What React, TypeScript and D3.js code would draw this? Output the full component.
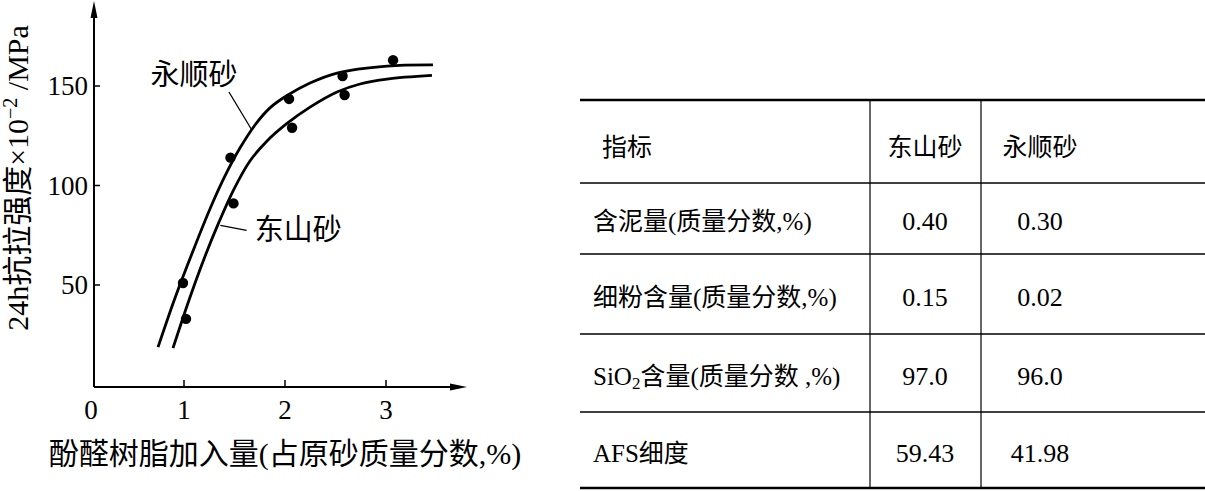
import React, { useEffect, useRef } from 'react';
import * as d3 from 'd3';

// fitted curves (resin %, strength x10^-2 MPa)
const yongshunCurveX = [0.743, 0.911, 1.089, 1.257, 1.406, 1.554, 1.703, 1.851, 2.02, 2.248, 2.515, 3.01, 3.465];
const yongshunCurveY = [18.8, 43.5, 67.1, 88.2, 104.8, 118.8, 130.4, 139.0, 145.2, 151.5, 156.5, 160.0, 160.6];
const dongshanCurveX = [0.891, 1.05, 1.198, 1.347, 1.495, 1.653, 1.822, 2.02, 2.248, 2.515, 2.743, 3.01, 3.455];
const dongshanCurveY = [18.3, 42.5, 63.1, 81.7, 98.2, 112.3, 122.4, 131.2, 139.4, 147.0, 151.0, 153.5, 155.3];

// measured points
const yongshunPointX = [0.99, 1.46, 2.04, 2.57, 3.07];
const yongshunPointY = [51, 114, 143.5, 155, 163];
const dongshanPointX = [1.02, 1.49, 2.07, 2.59];
const dongshanPointY = [33, 91, 129, 145.5];

const xTicks = [1, 2, 3];
const yTicks = [50, 100, 150];

// table
const tableHeader = ['指标', '东山砂', '永顺砂'];
const tableRows = ['含泥量(质量分数,%)', '细粉含量(质量分数,%)', 'SiO2含量(质量分数 ,%)', 'AFS细度'];
const dongshanValues = ['0.40', '0.15', '97.0', '59.43'];
const yongshunValues = ['0.30', '0.02', '96.0', '41.98'];

const FONT = "'Liberation Serif', 'Noto Sans CJK SC', serif";

export default function App() {
  const svgRef = useRef<SVGSVGElement>(null);

  useEffect(() => {
    if (!svgRef.current) return;
    const svg = d3.select(svgRef.current);
    svg.selectAll('*').remove();

    const x = d3.scaleLinear().domain([1, 3]).range([184, 386]);
    const y = d3.scaleLinear().domain([0, 150]).range([384.5, 86]);
    const ax = 94; // y-axis position
    const ay = 387; // x-axis position

    const g = svg.append('g');

    // axes
    g.append('line').attr('x1', ax).attr('y1', ay).attr('x2', ax).attr('y2', 12)
      .attr('stroke', '#000').attr('stroke-width', 2);
    g.append('path').attr('d', `M${ax},1 L${ax - 3.5},18 L${ax + 3.5},18 Z`).attr('fill', '#000');
    g.append('line').attr('x1', ax).attr('y1', ay).attr('x2', 455).attr('y2', ay)
      .attr('stroke', '#000').attr('stroke-width', 2);
    g.append('path').attr('d', `M467,${ay} L450,${ay - 3.5} L450,${ay + 3.5} Z`).attr('fill', '#000');

    yTicks.forEach(t => {
      g.append('line').attr('x1', ax).attr('x2', ax + 6).attr('y1', y(t)).attr('y2', y(t))
        .attr('stroke', '#000').attr('stroke-width', 1.5);
      g.append('text').attr('x', 88).attr('y', y(t)).attr('text-anchor', 'end')
        .attr('dominant-baseline', 'central').attr('font-family', FONT).attr('font-size', 27)
        .text(t);
    });
    xTicks.forEach(t => {
      g.append('line').attr('x1', x(t)).attr('x2', x(t)).attr('y1', ay).attr('y2', ay - 7)
        .attr('stroke', '#000').attr('stroke-width', 1.5);
      g.append('text').attr('x', x(t)).attr('y', 410).attr('text-anchor', 'middle')
        .attr('dominant-baseline', 'central').attr('font-family', FONT).attr('font-size', 27)
        .text(t);
    });
    g.append('text').attr('x', 91).attr('y', 410).attr('text-anchor', 'middle')
      .attr('dominant-baseline', 'central').attr('font-family', FONT).attr('font-size', 27)
      .text('0');

    // axis titles
    g.append('text').attr('x', 285).attr('y', 453).attr('text-anchor', 'middle')
      .attr('dominant-baseline', 'central').attr('font-family', FONT).attr('font-size', 30)
      .text('酚醛树脂加入量(占原砂质量分数,%)');

    const yl = g.append('text').attr('transform', 'translate(28,178) rotate(-90)')
      .attr('text-anchor', 'middle')
      .attr('font-family', FONT).attr('font-size', 30);
    yl.append('tspan').text('24h抗拉强度×10');
    yl.append('tspan').attr('font-size', 20).attr('dy', -11).text('−2');
    yl.append('tspan').attr('dy', 11).text(' /MPa');

    // curves
    const line = d3.line<[number, number]>()
      .x(d => x(d[0])).y(d => y(d[1])).curve(d3.curveCatmullRom.alpha(0.5));
    const curves = [
      d3.zip(yongshunCurveX, yongshunCurveY) as [number, number][],
      d3.zip(dongshanCurveX, dongshanCurveY) as [number, number][],
    ];
    curves.forEach(c => {
      g.append('path').attr('d', line(c)).attr('fill', 'none')
        .attr('stroke', '#000').attr('stroke-width', 2.8);
    });

    const points = [
      ...d3.zip(yongshunPointX, yongshunPointY),
      ...d3.zip(dongshanPointX, dongshanPointY),
    ];
    points.forEach(p => {
      g.append('circle').attr('cx', x(p[0])).attr('cy', y(p[1])).attr('r', 5.2).attr('fill', '#000');
    });

    // curve labels with leader lines
    g.append('line').attr('x1', x(1.445)).attr('y1', y(147)).attr('x2', x(1.67)).attr('y2', y(128))
      .attr('stroke', '#000').attr('stroke-width', 1.3);
    g.append('text').attr('x', x(1.1)).attr('y', y(155.5)).attr('text-anchor', 'middle')
      .attr('dominant-baseline', 'central').attr('font-family', FONT).attr('font-size', 29)
      .text('永顺砂');
    g.append('line').attr('x1', x(1.62)).attr('y1', y(77.5)).attr('x2', x(1.36)).attr('y2', y(80))
      .attr('stroke', '#000').attr('stroke-width', 1.3);
    g.append('text').attr('x', x(1.7)).attr('y', y(77.5)).attr('text-anchor', 'start')
      .attr('dominant-baseline', 'central').attr('font-family', FONT).attr('font-size', 29)
      .text('东山砂');

    // table
    const t = svg.append('g');
    const left = 580, right = 1205;
    const rowEdges = [100, 183, 254, 334, 412, 488];
    const colEdges = [870, 981];
    const colCenters = [925, 1040];

    rowEdges.forEach((ry, i) => {
      const thick = i === 0 || i === rowEdges.length - 1;
      t.append('line').attr('x1', left).attr('x2', right).attr('y1', ry).attr('y2', ry)
        .attr('stroke', '#000').attr('stroke-width', thick ? 2.6 : 1.3);
    });
    colEdges.forEach(cx => {
      t.append('line').attr('x1', cx).attr('x2', cx).attr('y1', rowEdges[0]).attr('y2', rowEdges[rowEdges.length - 1])
        .attr('stroke', '#000').attr('stroke-width', 1.2);
    });

    const rowMid = (i: number) => (rowEdges[i] + rowEdges[i + 1]) / 2 + 3;

    t.append('text').attr('x', 602).attr('y', rowMid(0) + 3).attr('dominant-baseline', 'central')
      .attr('font-family', FONT).attr('font-size', 25).text(tableHeader[0]);
    [tableHeader[1], tableHeader[2]].forEach((h, j) => {
      t.append('text').attr('x', colCenters[j]).attr('y', rowMid(0) + 3).attr('text-anchor', 'middle')
        .attr('dominant-baseline', 'central').attr('font-family', FONT).attr('font-size', 25).text(h);
    });

    tableRows.forEach((label, i) => {
      const ty = rowMid(i + 1);
      const txt = t.append('text').attr('x', 593).attr('y', ty).attr('dominant-baseline', 'central')
        .attr('font-family', FONT).attr('font-size', 25);
      if (label.startsWith('SiO2')) {
        txt.append('tspan').text('SiO');
        txt.append('tspan').attr('font-size', 17).attr('dy', 7).text('2');
        txt.append('tspan').attr('dy', -7).text(label.slice(4));
      } else {
        txt.text(label);
      }
      [dongshanValues[i], yongshunValues[i]].forEach((v, j) => {
        t.append('text').attr('x', colCenters[j]).attr('y', ty).attr('text-anchor', 'middle')
          .attr('dominant-baseline', 'central').attr('font-family', FONT).attr('font-size', 26).text(v);
      });
    });
  }, []);

  return (
    <svg ref={svgRef} width={1205} height={491}
      style={{ position: 'absolute', left: 0, top: 0, background: '#fff' }} />
  );
}
